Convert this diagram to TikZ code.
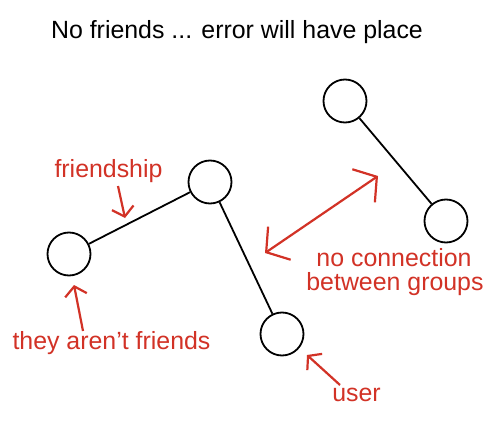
\documentclass[tikz,border=0pt]{standalone}
\usepackage{fontspec}
\setmainfont{Liberation Sans}
\usetikzlibrary{arrows.meta}
\definecolor{redlbl}{RGB}{210,50,38}
\begin{document}
\begin{tikzpicture}[x=1pt,y=-1pt,
  person/.style={circle,draw=black,line width=1.8pt,minimum size=43pt,inner sep=0pt},
  link/.style={draw=black,line width=1.8pt},
  lbl/.style={font=\fontsize{24.9}{28}\selectfont,inner sep=0pt,anchor=base},
  redlbl/.style={lbl,text=redlbl},
  redarrow/.style={draw=redlbl,line width=2.2pt,-{Straight Barb[length=9pt,width=22pt,line width=2.2pt]}},
  bigarrow/.style={draw=redlbl,line width=2.2pt,{Straight Barb[length=16pt,width=40pt,line width=2.2pt]}-{Straight Barb[length=16pt,width=40pt,line width=2.2pt]}}]
\useasboundingbox (0,0) rectangle (504,423);
\fill[white] (0,0) rectangle (504,423);
% title
\node[lbl] (title) at (237,38.3) {No friends ... error will have place};
% persons
\node[person] (a) at (69,254) {};
\node[person] (b) at (210,182) {};
\node[person] (c) at (282,334) {};
\node[person] (d) at (345,101) {};
\node[person] (e) at (446,221) {};
\draw[link] (a) -- (b);
\draw[link] (b) -- (c);
\draw[link] (d) -- (e);
% labels
\node[redlbl] (lfriend) at (108.5,177.5) {friendship};
\node[redlbl] (lnot) at (111.5,349.3) {they aren’t friends};
\node[redlbl] (luser) at (356.5,401.7) {user};
\node[redlbl] (lnc1) at (394,266.7) {no connection};
\node[redlbl] (lnc2) at (395,290) {between groups};
% arrow ends
\coordinate (f1) at (118,186);
\coordinate (f2) at (125,218);
\coordinate (n1) at (83,331);
\coordinate (n2) at (74,285);
\coordinate (u1) at (340,385);
\coordinate (u2) at (307,355);
\coordinate (g1) at (265,253);
\coordinate (g2) at (378,176);
\draw[redarrow] (f1) -- (f2);
\draw[redarrow] (n1) -- (n2);
\draw[redarrow] (u1) -- (u2);
\draw[bigarrow] (g1) -- (g2);
\end{tikzpicture}
\end{document}
